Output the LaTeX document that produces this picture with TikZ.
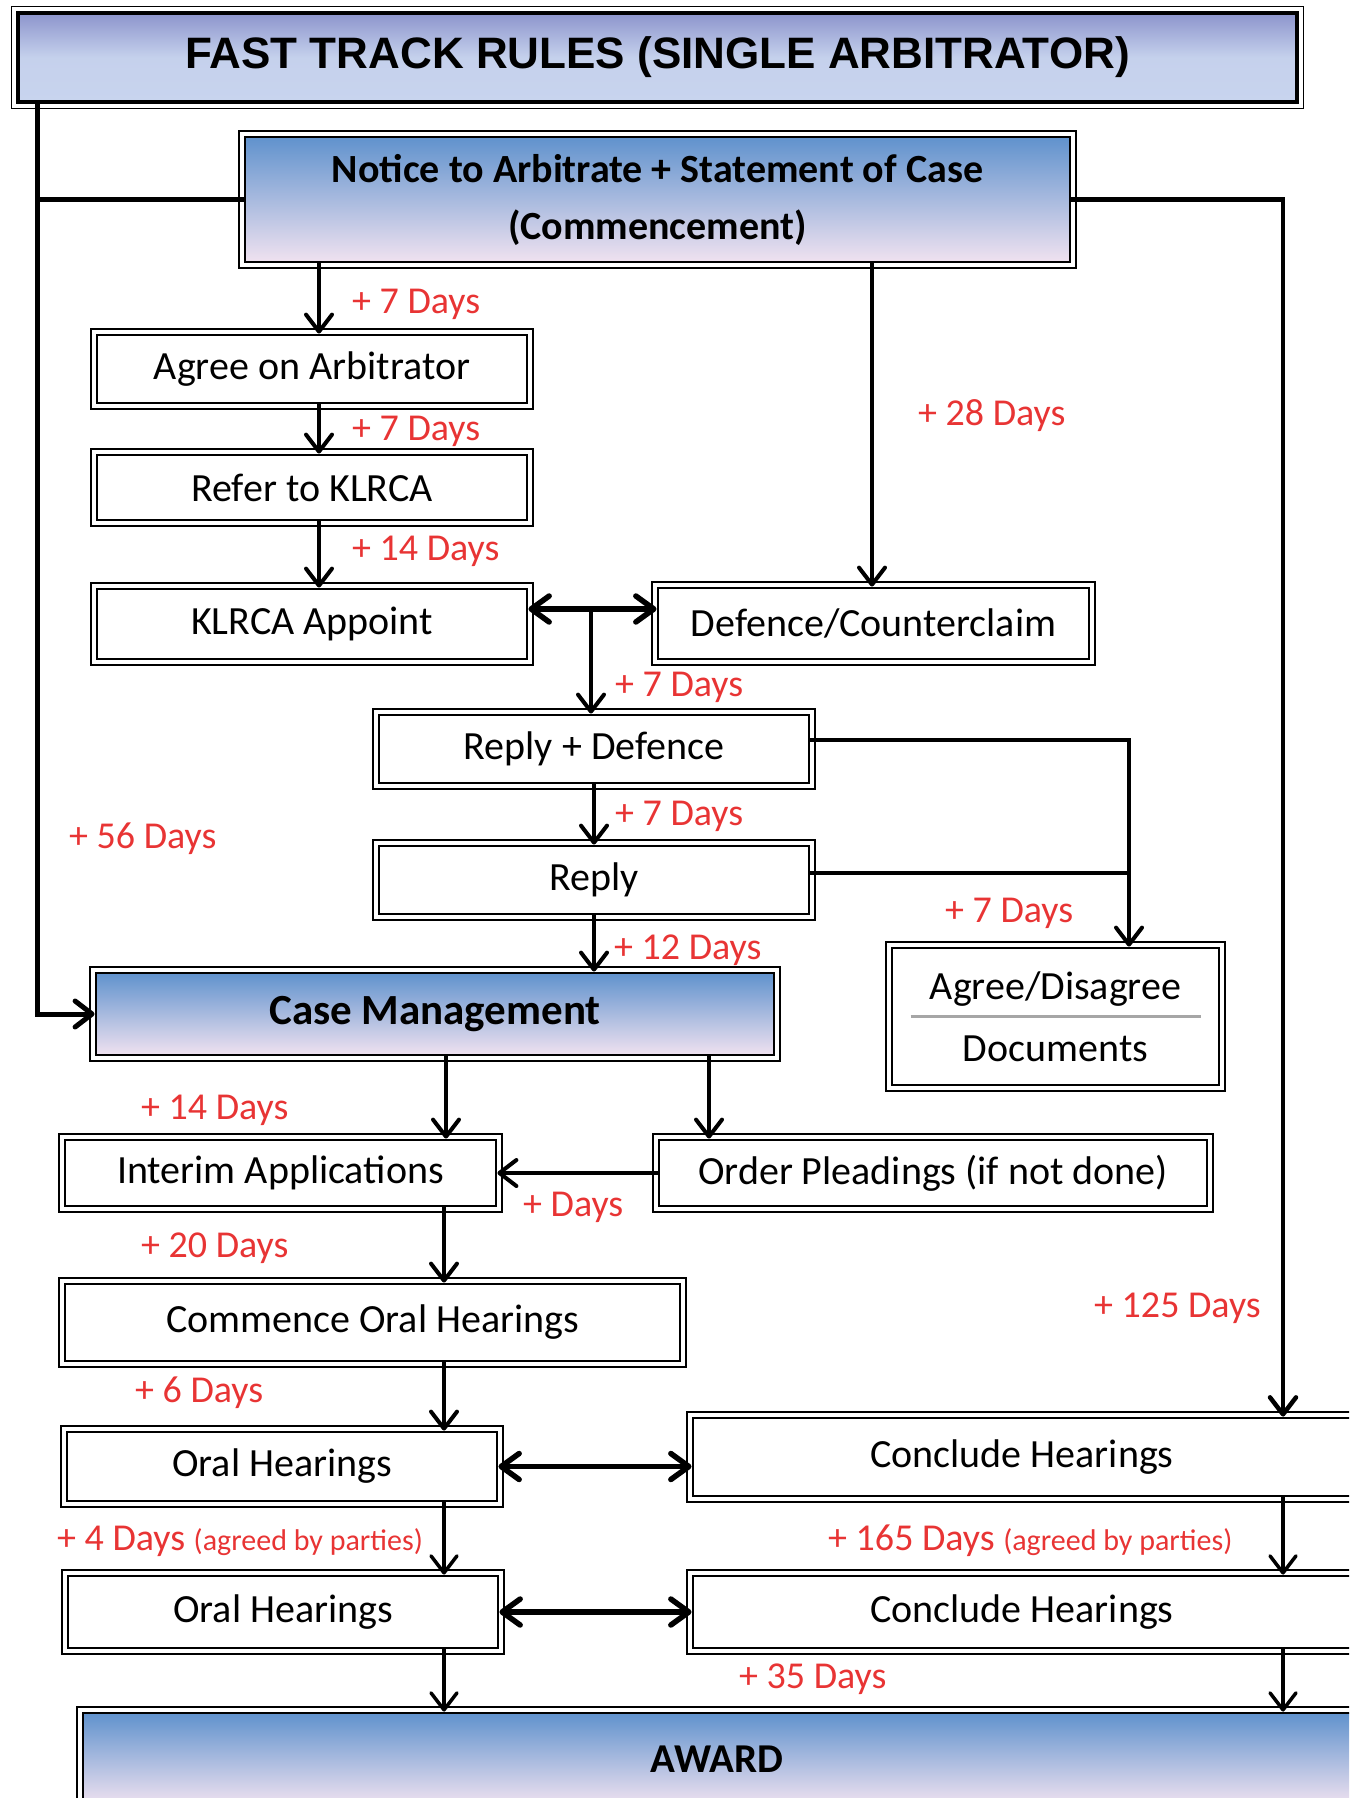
\documentclass[tikz,border=0pt]{standalone}
\usepackage{fontspec}
\setmainfont{Carlito}
\newfontfamily\titlefont{Liberation Sans}
\usetikzlibrary{arrows.meta,calc}
\definecolor{lblred}{RGB}{232,52,52}
\definecolor{blueA}{RGB}{96,146,205}
\definecolor{blueB}{RGB}{128,187,228}
\definecolor{blueC}{RGB}{240,226,240}
\definecolor{titA}{RGB}{140,148,204}
\definecolor{titB}{RGB}{200,212,238}
\begin{document}
\begin{tikzpicture}[x=1pt,y=-1pt,
  box/.style={draw=black, line width=2.8pt, fill=white, inner sep=0pt, align=center,
    font=\fontsize{40}{48}\selectfont},
  bluebox/.style={box, top color=blueA, middle color=blueB, bottom color=blueC,
    font=\bfseries\fontsize{42}{57}\selectfont},
  titlebox/.style={draw=black, line width=4.5pt, inner sep=0pt, top color=titA, bottom color=titB,
    middle color=titB!95!titA, font=\titlefont\bfseries\fontsize{44}{50}\selectfont},
  lbl/.style={text=lblred, anchor=west, inner sep=0pt, font=\fontsize{38}{46}\selectfont},
  arr/.style={line width=4pt, -{Straight Barb[length=17pt,width=26pt,round]}},
  darr/.style={line width=5.5pt, {Straight Barb[length=18pt,width=26pt,round]}-{Straight Barb[length=18pt,width=26pt,round]}},
  conn/.style={line width=4pt},
  frame/.style={line width=1.3pt}
]
\useasboundingbox (0,0) rectangle (1349,1798);
\clip (0,0) rectangle (1349,1798);

% column coordinates
\coordinate (L) at (37,0);
\coordinate (c1) at (319,0);
\coordinate (c2) at (872,0);
\coordinate (jn) at (591,609);
\coordinate (c4) at (594,0);
\coordinate (c5) at (1129,0);
\coordinate (c6) at (446,0);
\coordinate (c7) at (709,0);
\coordinate (c8) at (444,0);
\coordinate (R) at (1283,0);

% nodes
\node[titlebox, minimum width=1279pt, minimum height=89pt] (title) at (657.5,57.5) {FAST TRACK RULES (SINGLE ARBITRATOR)};
\node[bluebox, minimum width=825pt, minimum height=125pt, font=\bfseries\fontsize{40}{57}\selectfont] (notice) at (657.5,199.5) {Notice to Arbitrate + Statement of Case\\(Commencement)};
\node[box, minimum width=430pt, minimum height=68pt] (agree) at (312,369) {Agree on Arbitrator};
\node[box, minimum width=430pt, minimum height=65pt] (refer) at (312,487.5) {Refer to KLRCA};
\node[box, minimum width=430pt, minimum height=70pt] (klrca) at (312,624) {KLRCA Appoint};
\node[box, minimum width=431pt, minimum height=71pt] (def) at (873.5,623.5) {Defence/Counterclaim};
\node[box, minimum width=430pt, minimum height=68pt] (rd) at (594,749) {Reply + Defence};
\node[box, minimum width=430pt, minimum height=68pt] (reply) at (594,880) {Reply};
\node[box, minimum width=327pt, minimum height=137pt, font=\fontsize{40}{62}\selectfont] (ad) at (1055.5,1016.5) {Agree/Disagree\\Documents};
\node[bluebox, minimum width=678pt, minimum height=82pt, font=\bfseries\fontsize{43}{50}\selectfont] (cm) at (435,1014) {Case Management};
\node[box, minimum width=431pt, minimum height=66pt] (interim) at (280.5,1173) {Interim Applications};
\node[box, minimum width=548pt, minimum height=66pt] (order) at (933,1173) {Order Pleadings (if not done)};
\node[box, minimum width=615pt, minimum height=77pt] (comm) at (372.5,1322.5) {Commence Oral Hearings};
\node[box, minimum width=430pt, minimum height=69pt] (oral1) at (282,1466.5) {Oral Hearings};
\node[box, minimum width=658pt, minimum height=78pt] (conc1) at (1022,1457) {Conclude Hearings};
\node[box, minimum width=430pt, minimum height=72pt] (oral2) at (283,1612) {Oral Hearings};
\node[box, minimum width=658pt, minimum height=72pt] (conc2) at (1022,1612) {Conclude Hearings};
\node[bluebox, minimum width=1268pt, minimum height=92pt, font=\bfseries\fontsize{41}{50}\selectfont] (award) at (717,1759) {AWARD};

% outer thin frames (double border look)
\foreach \n in {notice,agree,refer,klrca,def,rd,reply,ad,cm,interim,order,comm,oral1,conc1,oral2,conc2,award}
  \draw[frame] ([shift={(-4.5pt,4.5pt)}]\n.north west) rectangle ([shift={(4.5pt,-4.5pt)}]\n.south east);
\draw[frame] ([shift={(-4pt,4pt)}]title.north west) rectangle ([shift={(4pt,-4pt)}]title.south east);

% separator in Agree/Disagree box
\draw[line width=3pt, gray!70] ([xshift=20pt]ad.west) -- ([xshift=-19pt]ad.east);

% connectors
\draw[arr, line width=5pt] (title.south -| L) |- (cm.west);
\draw[conn, line width=5.5pt] (L |- notice.west) -- (notice.west);
\draw[arr, line width=4.5pt] (notice.east) -| (conc1.north -| R);
\draw[arr] (notice.south -| c1) -- (agree.north -| c1);
\draw[arr] (agree.south -| c1) -- (refer.north -| c1);
\draw[arr] (refer.south -| c1) -- (klrca.north -| c1);
\draw[arr] (notice.south -| c2) -- (def.north -| c2);
\draw[darr] (klrca.east |- jn) -- (def.west |- jn);
\draw[arr] (jn) -- (rd.north -| jn);
\draw[arr] (rd.south -| c4) -- (reply.north -| c4);
\draw[arr] (reply.south -| c4) -- (cm.north -| c4);
\draw[arr] ([yshift=9pt]rd.east) -| (ad.north -| c5);
\draw[conn] ([yshift=7pt]reply.east) -- ([yshift=7pt]reply.east -| c5);
\draw[arr] (cm.south -| c6) -- (interim.north -| c6);
\draw[arr] (cm.south -| c7) -- (order.north -| c7);
\draw[arr] (order.west) -- (interim.east);
\draw[arr] (interim.south -| c8) -- (comm.north -| c8);
\draw[arr] (comm.south -| c8) -- (oral1.north -| c8);
\draw[arr, line width=3.5pt] (oral1.south -| c8) -- (oral2.north -| c8);
\draw[arr, line width=3.5pt] (oral2.south -| c8) -- (award.north -| c8);
\draw[darr] (oral1.east) -- (conc1.west |- oral1.east);
\draw[darr] (oral2.east) -- (conc2.west |- oral2.east);
\draw[arr, line width=3.5pt] (conc1.south -| R) -- (conc2.north -| R);
\draw[arr, line width=3.5pt] (conc2.south -| R) -- (award.north -| R);

% labels
\node[lbl] (l1) at (352,304) {+ 7 Days};
\node[lbl] (l2) at (918,416) {+ 28 Days};
\node[lbl] (l3) at (352,431) {+ 7 Days};
\node[lbl] (l4) at (352,551) {+ 14 Days};
\node[lbl] (l5) at (615,687) {+ 7 Days};
\node[lbl] (l6) at (615,816) {+ 7 Days};
\node[lbl] (l7) at (69,839) {+ 56 Days};
\node[lbl] (l8) at (945,913) {+ 7 Days};
\node[lbl] (l9) at (614,950) {+ 12 Days};
\node[lbl] (l10) at (141,1110) {+ 14 Days};
\node[lbl] (l11) at (523,1207) {+ Days};
\node[lbl] (l12) at (141,1248) {+ 20 Days};
\node[lbl] (l13) at (1094,1308) {+ 125 Days};
\node[lbl] (l14) at (135,1393) {+ 6 Days};
\node[lbl] (l15) at (57,1541) {+ 4 Days {\fontsize{30}{36}\selectfont(agreed by parties)}};
\node[lbl] (l16) at (828,1541) {+ 165 Days {\fontsize{30}{36}\selectfont(agreed by parties)}};
\node[lbl] (l17) at (739,1679) {+ 35 Days};
\end{tikzpicture}
\end{document}
